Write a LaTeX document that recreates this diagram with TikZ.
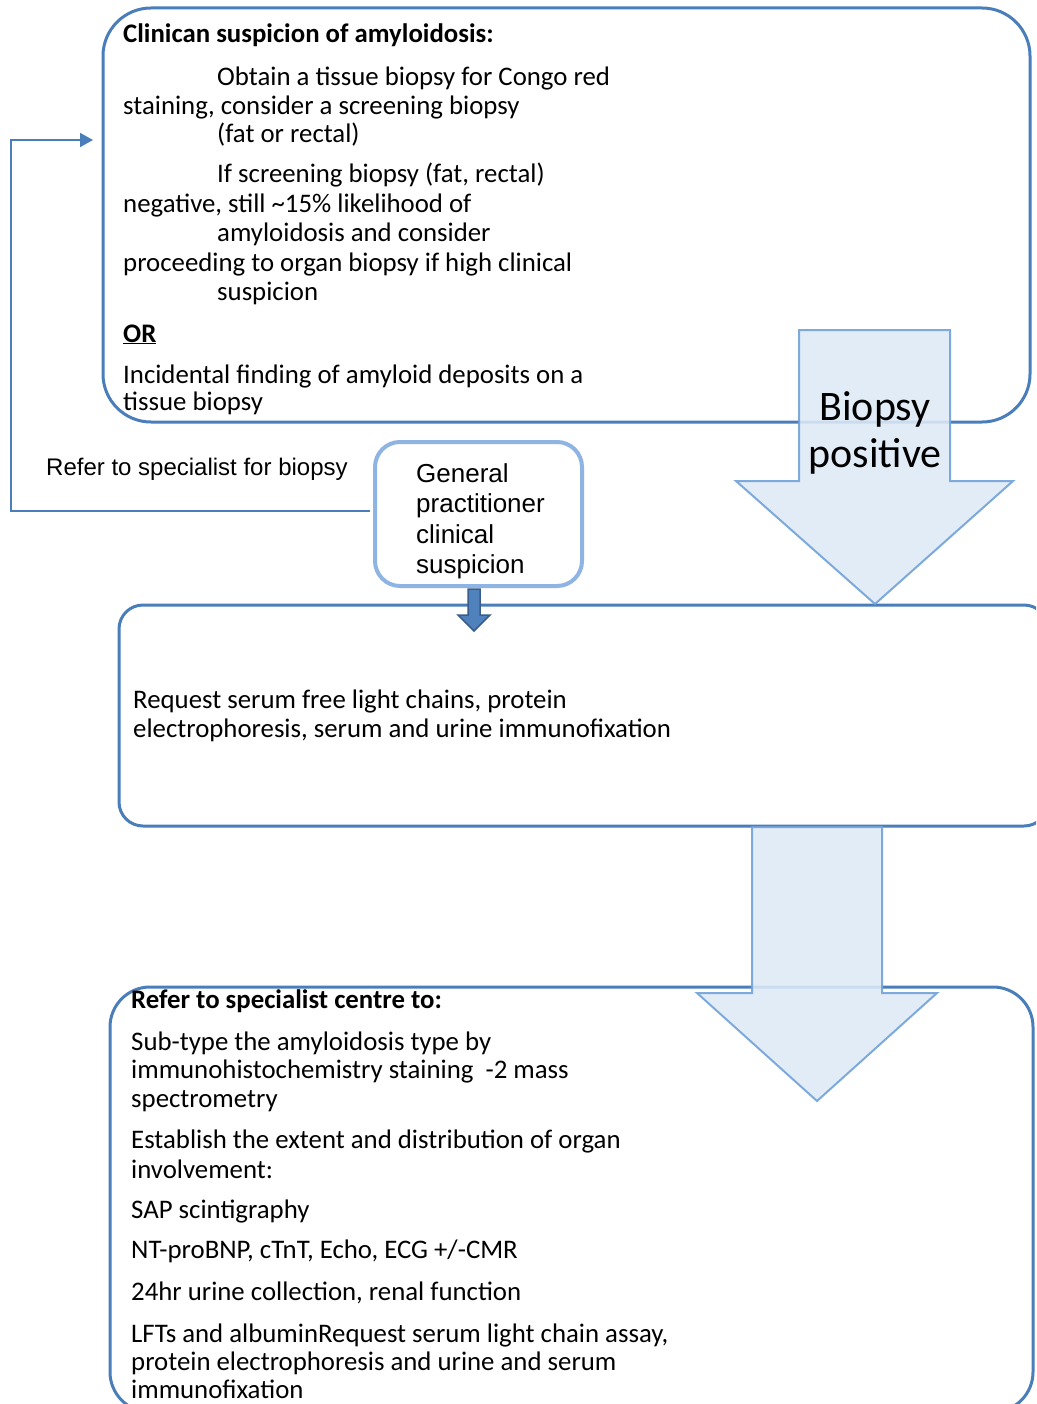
\documentclass[tikz,border=0pt]{standalone}
\usepackage{fontspec}
\setmainfont{Carlito}
\newfontfamily\arialf{Liberation Sans}
\usetikzlibrary{arrows.meta}
\definecolor{boxblue}{RGB}{74,126,187}
\definecolor{gpblue}{RGB}{141,180,226}
\definecolor{arrfill}{RGB}{222,234,247}
\definecolor{arrline}{RGB}{112,162,216}
\definecolor{darkarr}{RGB}{56,93,138}
\definecolor{midarr}{RGB}{79,129,189}
\begin{document}
\begin{tikzpicture}[x=1pt,y=-1pt,
  box/.style={draw=boxblue, line width=3pt, rounded corners=#1, inner sep=0pt},
  gpbox/.style={draw=gpblue, fill=white, line width=4pt, rounded corners=25pt, inner sep=0pt},
  txt/.style={anchor=base west, inner sep=0pt, font=\fontsize{26.8}{30}\selectfont},
  btxt/.style={txt, font=\fontsize{26.8}{30}\selectfont\bfseries},
  atxt/.style={anchor=base west, inner sep=0pt, font=\arialf\fontsize{26}{30}\selectfont},
  bigtxt/.style={anchor=base, inner sep=0pt, font=\fontsize{42}{46}\selectfont},
  blockarrow/.style={fill=arrfill, fill opacity=0.88, draw=arrline, draw opacity=0.9, line width=2pt, line join=miter},
  conn/.style={draw=boxblue, line width=1.6pt}
]
\useasboundingbox (0,0) rectangle (1036,1404);
\fill[white] (0,0) rectangle (1036,1404);
\begin{scope}
\clip (0,0) rectangle (1036,1404);

% boxes
\node[box=48pt, minimum width=927pt, minimum height=414pt] (top) at (566.5,215) {};
\node[box=24pt, minimum width=929pt, minimum height=221pt] (mid) at (583.5,715.5) {};
\node[box=40pt, minimum width=923pt, minimum height=425pt] (bot) at (571.5,1199.5) {};

% top box text
\node[btxt] (t0) at (123,43) {Clinican suspicion of amyloidosis:};
\node[txt] (t1) at (217,86) {Obtain a tissue biopsy for Congo red};
\node[txt] (t2) at (123,115) {staining, consider a screening biopsy};
\node[txt] (t3) at (217,143) {(fat or rectal)};
\node[txt] (t4) at (217,183) {If screening biopsy (fat, rectal)};
\node[txt] (t5) at (123,213) {negative, still \textasciitilde15\% likelihood of};
\node[txt] (t6) at (217,242) {amyloidosis and consider};
\node[txt] (t7) at (123,272) {proceeding to organ biopsy if high clinical};
\node[txt] (t8) at (217,301) {suspicion};
\node[btxt] (t9) at (123,342) {\underline{OR}};
\node[txt] (t10) at (123,383) {Incidental finding of amyloid deposits on a};
\node[txt] (t11) at (123,410) {tissue biopsy};

% middle box text
\node[txt] (m1) at (133,708) {Request serum free light chains, protein};
\node[txt] (m2) at (133,737) {electrophoresis, serum and urine immunofixation};

% bottom box text
\node[btxt] (b0) at (131,1008) {Refer to specialist centre to:};
\node[txt] (b1) at (131,1050) {Sub-type the amyloidosis type by};
\node[txt] (b2) at (131,1078) {immunohistochemistry staining \ -2 mass};
\node[txt] (b3) at (131,1107) {spectrometry};
\node[txt] (b4) at (131,1148) {Establish the extent and distribution of organ};
\node[txt] (b5) at (131,1178) {involvement:};
\node[txt] (b6) at (131,1218) {SAP scintigraphy};
\node[txt] (b7) at (131,1258) {NT-proBNP, cTnT, Echo, ECG +/-CMR};
\node[txt] (b8) at (131,1300) {24hr urine collection, renal function};
\node[txt] (b9) at (131,1342) {LFTs and albuminRequest serum light chain assay,};
\node[txt] (b10) at (131,1370) {protein electrophoresis and urine and serum};
\node[txt] (b11) at (131,1398) {immunofixation};

% big block arrows
\path[blockarrow] (799,330) -- (950,330) -- (950,481) -- (1013,481) -- (875,604) -- (736,481) -- (799,481) -- cycle;
\node[bigtxt] (bp1) at (875,420) {Biopsy};
\node[bigtxt] (bp2) at (875,467) {positive};
\path[blockarrow] (752,827) -- (882,827) -- (882,993) -- (937,993) -- (817,1101) -- (697,993) -- (752,993) -- cycle;

% GP box
\node[gpbox, minimum width=207pt, minimum height=144pt] (gp) at (478.5,514) {};
\node[atxt] (g1) at (416,482) {General};
\node[atxt] (g2) at (416,512) {practitioner};
\node[atxt] (g3) at (416,543) {clinical};
\node[atxt] (g4) at (416,573) {suspicion};

% small dark arrow from GP box to middle box
\path[fill=midarr, draw=darkarr, line width=1.5pt, line join=miter]
  (468,589) -- (480,589) -- (480,615) -- (490,615) -- (474,631) -- (458,615) -- (468,615) -- cycle;

% refer connector
\coordinate (rstart) at (370,511);
\coordinate (rin) at (93,140);
\draw[conn, -{Triangle[length=13pt,width=14pt]}] (rstart) -| (11,140) -- (rin);
\node[atxt, font=\arialf\fontsize{24}{28}\selectfont] (refer) at (46,475) {Refer to specialist for biopsy};
\end{scope}
\end{tikzpicture}
\end{document}
